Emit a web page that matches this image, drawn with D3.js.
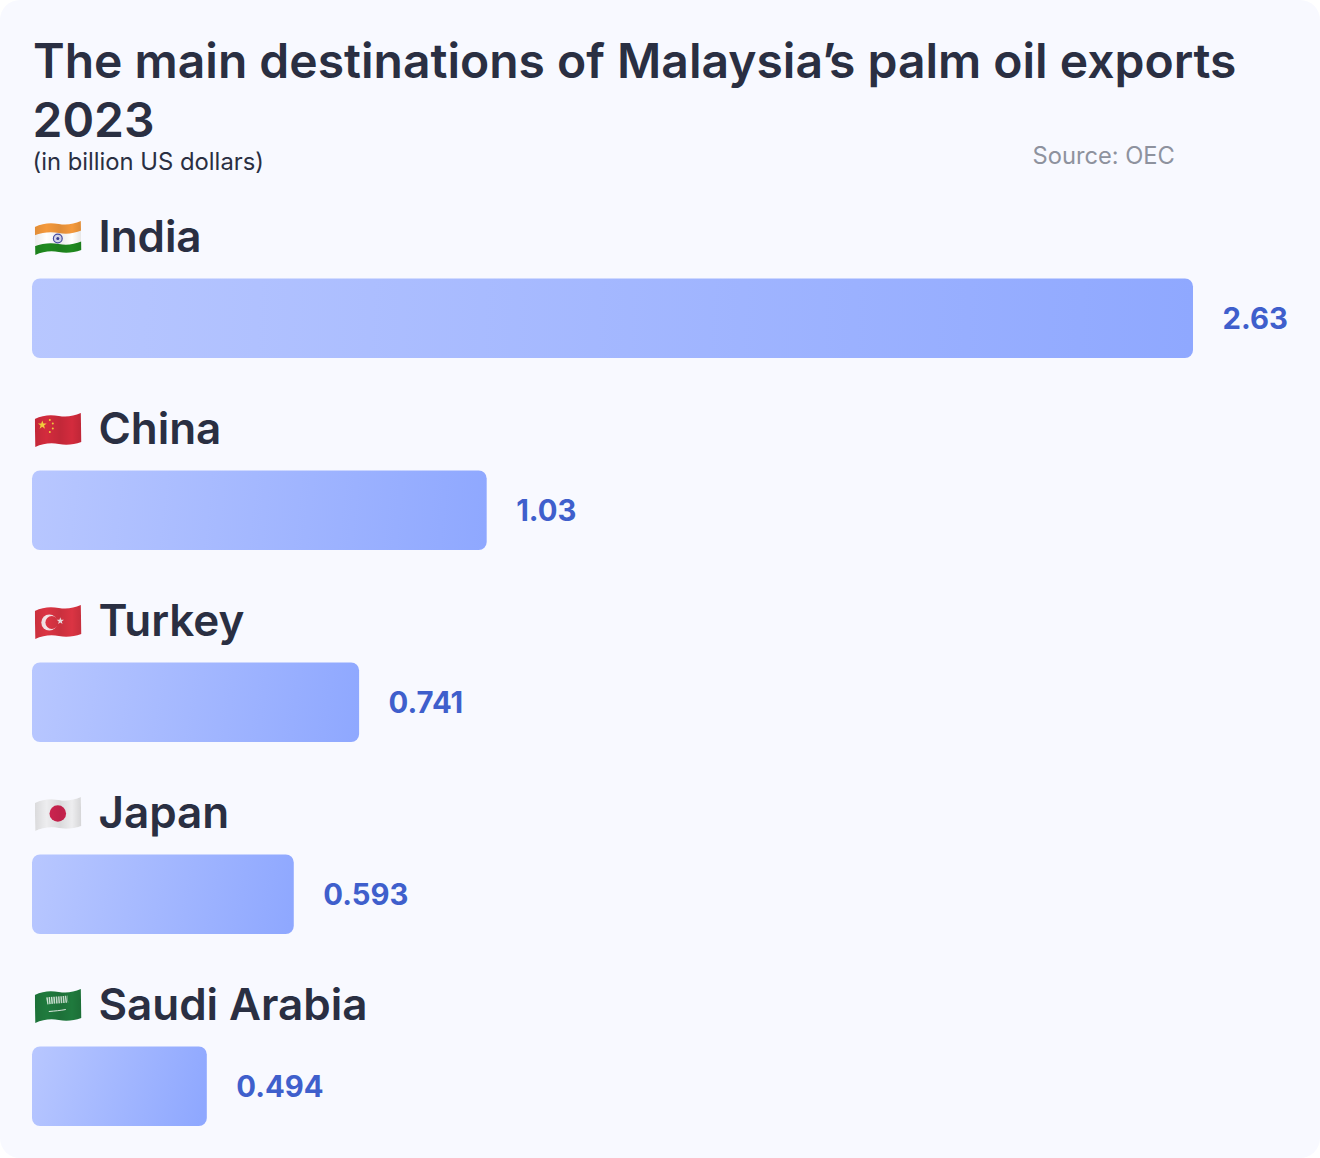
<!DOCTYPE html>
<html><head><meta charset="utf-8">
<script src="https://cdn.jsdelivr.net/npm/d3@7"></script>
<style>html,body{margin:0;padding:0;background:#fff}svg{display:block}text{font-family:Inter,sans-serif}</style>
</head><body><svg id="c" width="1320" height="1158"></svg>
<script>
const countries = ["India","China","Turkey","Japan","Saudi Arabia"];
const valueLabels = ["2.63","1.03","0.741","0.593","0.494"];
// bar lengths as drawn in the picture (the Saudi Arabia bar is shorter than its 0.494 label)
const barValues = [2.63,1.03,0.741,0.593,0.396];
const flagIds = ["in","cn","tr","jp","sa"];
const svg = d3.select("#c");
svg.append("rect").attr("width",1320).attr("height",1158).attr("rx",20).attr("fill","#F8F9FF");
const defs = svg.append("defs");
const x = d3.scaleLinear().domain([0,2.63]).range([32,1193]);
const step = 192, barH = 79.5;
const y = d3.scaleOrdinal().domain(countries).range(d3.range(countries.length).map(i=>278.5+i*step));
const rowY = c => y(c);

countries.forEach((c,i)=>{
  const w = x(barValues[i])-x(0);
  const g = defs.append("linearGradient").attr("id","g"+i).attr("gradientUnits","userSpaceOnUse")
    .attr("x1",32).attr("y1",rowY(c)).attr("x2",32+w).attr("y2",rowY(c)+barH*0.6);
  g.append("stop").attr("offset",0).attr("stop-color","#B8C7FF");
  g.append("stop").attr("offset",1).attr("stop-color","#8FA8FF");
});

const title = svg.append("text").attr("x",33).attr("y",78).attr("font-size",48).attr("font-weight",600).attr("fill","#2A2F42");
title.append("tspan").text("The main destinations of Malaysia’");
title.append("tspan").attr("dx",-3.5).text("s palm oil exports");
svg.append("text").attr("x",32.5).attr("y",136.6).attr("font-size",48).attr("font-weight",600).attr("fill","#2A2F42").text("2023");
svg.append("text").attr("x",32.5).attr("y",170).attr("font-size",23.8).attr("fill","#2A2F42").text("(in billion US dollars)");
svg.append("text").attr("x",1032.5).attr("y",164).attr("font-size",23.7).attr("fill","#8E929E").text("Source: OEC");

const rows = svg.selectAll("g.row").data(countries).join("g").attr("class","row");
rows.append("rect").attr("x",x(0)).attr("y",d=>rowY(d)).attr("height",barH).attr("rx",8)
  .attr("width",(d,i)=>x(barValues[i])-x(0)).attr("fill",(d,i)=>`url(#g${i})`);
rows.append("text").attr("x",98.5).attr("y",d=>rowY(d)-26.5).attr("font-size",44).attr("font-weight",600).attr("letter-spacing",-0.05).attr("fill","#2A2F42").text(d=>d);
rows.append("text").attr("x",(d,i)=>x(barValues[i])+29.5).attr("y",d=>rowY(d)+50.3).attr("font-size",29.3).attr("font-weight",700).attr("fill","#3F5FCC").text((d,i)=>valueLabels[i]);

// waved emoji-style flags, local coordinates
const wave = "M0,8 C8,4 16,3.5 24,5 C32,6.5 39,5 46,2 L46.5,31 C39,33.5 32,34.5 24,33 C16,31.5 8,32.5 0.5,36 Z";
const flagDraw = {
  in(f){ f.append("rect").attr("x",-2).attr("y",-2).attr("width",52).attr("height",42).attr("fill","#fff");
    f.append("path").attr("d","M-2,17 C8,13 16,12.5 24,14 C32,15.5 39,14.5 48,11 L48,-2 L-2,-2 Z").attr("fill","#F4993C");
    f.append("path").attr("d","M-2,28 C8,24 16,23.5 24,25 C32,26.5 39,25.5 48,22 L48,40 L-2,40 Z").attr("fill","#1F8A1F");
    f.append("circle").attr("cx",23).attr("cy",19.5).attr("r",4.4).attr("fill","#DDE0F5").attr("stroke","#4A4FA8").attr("stroke-width",1.2);
    f.append("circle").attr("cx",23).attr("cy",19.5).attr("r",1.5).attr("fill","#3A3F98"); },
  cn(f){ f.append("rect").attr("x",-2).attr("y",-2).attr("width",52).attr("height",42).attr("fill","#D32B3D");
    star(f,7.5,14,4.6,"#F7D23E"); [[15,9],[18,12.5],[18,17.5],[15,21]].forEach(p=>f.append("circle").attr("cx",p[0]).attr("cy",p[1]).attr("r",1).attr("fill","#F7D23E")); },
  tr(f){ f.append("rect").attr("x",-2).attr("y",-2).attr("width",52).attr("height",42).attr("fill","#DB3443");
    f.append("circle").attr("cx",14.5).attr("cy",19.5).attr("r",8).attr("fill","#F4E4E6");
    f.append("circle").attr("cx",17).attr("cy",19.5).attr("r",6.4).attr("fill","#DB3443");
    star(f,25.5,18,3.8,"#F7ECEE"); },
  jp(f){ f.append("rect").attr("x",-2).attr("y",-2).attr("width",52).attr("height",42).attr("fill","#EDEDEF");
    f.append("circle").attr("cx",23).attr("cy",18.5).attr("r",8.3).attr("fill","#CF2450"); },
  sa(f){ f.append("rect").attr("x",-2).attr("y",-2).attr("width",52).attr("height",42).attr("fill","#1F7A3D");
    f.append("path").attr("d","M12,14 C18,13 26,13 33,12").attr("fill","none").attr("stroke","#CFE5D5").attr("stroke-width",7).attr("stroke-dasharray","1.5 .8");
    f.append("path").attr("d","M14,24.5 C20,24 26,23.5 31,22.5").attr("fill","none").attr("stroke","#E6F2E9").attr("stroke-width",1); }
};
function star(f,cx,cy,r,fill){
  const pts=d3.range(10).map(k=>{const a=-Math.PI/2+k*Math.PI/5,q=k%2?r*0.4:r;return [cx+q*Math.cos(a),cy+q*Math.sin(a)];});
  f.append("polygon").attr("points",pts.join(" ")).attr("fill",fill);
}
const shade = defs.append("linearGradient").attr("id","shade");
[[0,.08],[.25,0],[.55,.08],[.8,0],[1,.1]].forEach(s=>shade.append("stop").attr("offset",s[0]).attr("stop-color","#000").attr("stop-opacity",s[1]));
countries.forEach((c,i)=>{
  const id="clip"+i;
  defs.append("clipPath").attr("id",id).append("path").attr("d",wave);
  const g=svg.append("g").attr("transform",`translate(34.8,${rowY(c)-59.5})`);
  const f=g.append("g").attr("clip-path",`url(#${id})`);
  flagDraw[flagIds[i]](f);
  f.append("path").attr("d",wave).attr("fill","url(#shade)");
});
</script></body></html>
